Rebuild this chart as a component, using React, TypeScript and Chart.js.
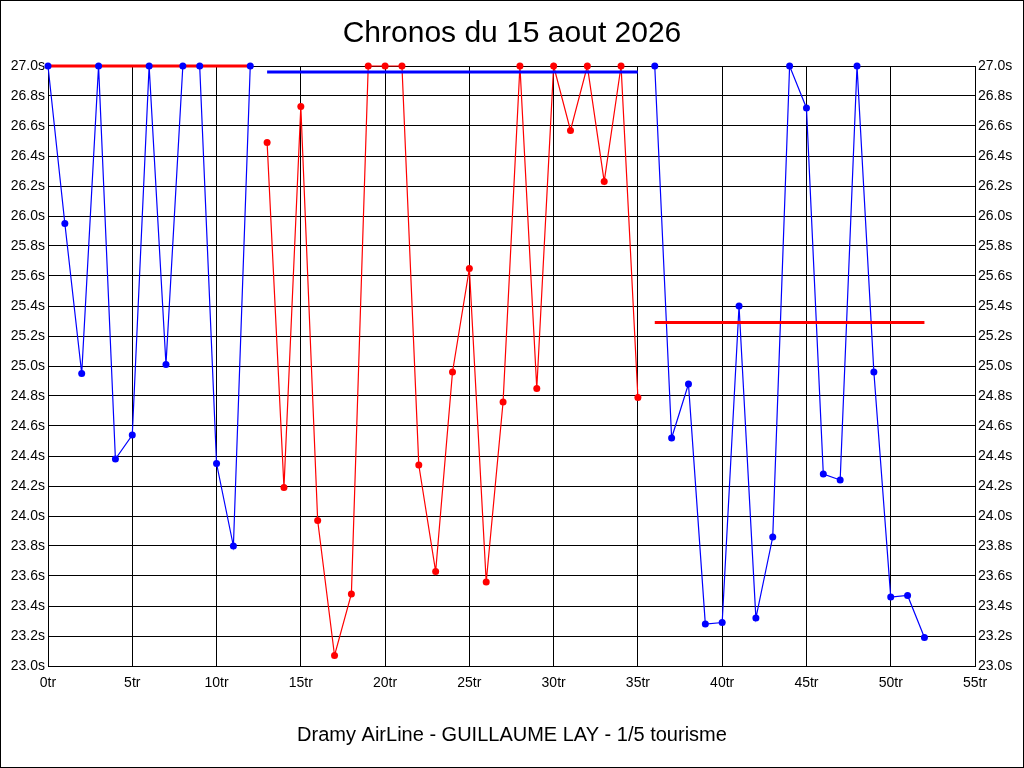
import React, { useEffect, useRef } from 'react';
import { Chart, registerables } from 'chart.js';

Chart.register(...registerables);

const title = 'Chronos du 15 aout 2026';
const footer = 'Dramy AirLine - GUILLAUME LAY - 1/5 tourisme';

// lap times in seconds, split by session
const session1Start = 0;
const session1 = [27.0, 25.95, 24.95, 27.0, 24.38, 24.54, 27.0, 25.01, 27.0, 27.0, 24.35, 23.80, 27.0];
const session2Start = 13;
const session2 = [26.49, 24.19, 26.73, 23.97, 23.07, 23.48, 27.0, 27.0, 27.0, 24.34, 23.63, 24.96, 25.65, 23.56, 24.76, 27.0, 24.85, 27.0, 26.57, 27.0, 26.23, 27.0, 24.79];
const session3Start = 36;
const session3 = [27.0, 24.52, 24.88, 23.28, 23.29, 25.40, 23.32, 23.86, 27.0, 26.72, 24.28, 24.24, 27.0, 24.96, 23.46, 23.47, 23.19];
// reference line per session
const sessionLevels = [27.0, 26.96, 25.29];

const xMin = 0;
const xMax = 55;
const xStep = 5;
const yMin = 23.0;
const yMax = 27.0;
const yStep = 0.2;

const BLUE = '#0000ff';
const RED = '#ff0000';

const toPoints = (start: number, values: number[]) => values.map((y, i) => ({ x: start + i, y }));
const levelLine = (start: number, values: number[], level: number) => [
    { x: start, y: level },
    { x: start + values.length - 1, y: level },
];

const frame = {
    id: 'frame',
    afterDraw(chart: any) {
        const ctx = chart.ctx;
        ctx.save();
        ctx.strokeStyle = '#000';
        ctx.lineWidth = 1;
        ctx.strokeRect(0.5, 0.5, chart.width - 1, chart.height - 1);
        ctx.fillStyle = '#000';
        ctx.textAlign = 'center';
        ctx.textBaseline = 'middle';
        ctx.font = '30px "Liberation Sans", Arial, sans-serif';
        ctx.fillText(title, chart.width / 2, 34);
        ctx.font = '20px "Liberation Sans", Arial, sans-serif';
        ctx.fillText(footer, chart.width / 2, 735);
        ctx.restore();
    },
};

export default function App() {
    const canvas = useRef<HTMLCanvasElement>(null);

    useEffect(() => {
        document.body.style.margin = '0';
        Chart.defaults.font.family = '"Liberation Sans", Arial, sans-serif';
        Chart.defaults.color = '#000';

        const sessions = [
            { start: session1Start, values: session1, color: BLUE, levelColor: RED },
            { start: session2Start, values: session2, color: RED, levelColor: BLUE },
            { start: session3Start, values: session3, color: BLUE, levelColor: RED },
        ];

        const datasets: any[] = [];
        sessions.forEach((s, i) => {
            const pts = toPoints(s.start, s.values);
            datasets.push({
                data: pts,
                borderColor: s.color,
                borderWidth: 1.2,
                pointRadius: 0,
                clip: false,
                order: 3,
            });
            datasets.push({
                data: levelLine(s.start, s.values, sessionLevels[i]),
                borderColor: s.levelColor,
                borderWidth: 3,
                pointRadius: 0,
                clip: false,
                order: 2,
            });
            datasets.push({
                data: pts,
                showLine: false,
                pointRadius: 3.5,
                pointBorderWidth: 0,
                pointBackgroundColor: s.color,
                clip: false,
                order: 1,
            });
        });

        const tickFont = { size: 14 };

        const chart = new Chart(canvas.current!, {
            type: 'line',
            data: { datasets },
            options: {
                animation: false,
                responsive: false,
                devicePixelRatio: 1,
                layout: { padding: { top: 66, left: 0, right: 0, bottom: 0 } },
                plugins: {
                    legend: { display: false },
                    tooltip: { enabled: false },
                },
                scales: {
                    x: {
                        type: 'linear',
                        min: xMin,
                        max: xMax,
                        ticks: { stepSize: xStep, padding: 9, font: tickFont, callback: (v: any) => `${v}tr` },
                        grid: { color: '#000', lineWidth: 1, drawTicks: false },
                        border: { color: '#000' },
                        afterFit: (scale: any) => { scale.height = 102; },
                    },
                    y: {
                        type: 'linear',
                        position: 'left',
                        min: yMin,
                        max: yMax,
                        ticks: { stepSize: yStep, padding: 3, font: tickFont, callback: (v: any) => `${Number(v).toFixed(1)}s` },
                        grid: { color: '#000', lineWidth: 1, drawTicks: false },
                        border: { color: '#000' },
                        afterFit: (scale: any) => { scale.width = 48; },
                    },
                    y2: {
                        type: 'linear',
                        position: 'right',
                        min: yMin,
                        max: yMax,
                        ticks: { stepSize: yStep, padding: 3, font: tickFont, callback: (v: any) => `${Number(v).toFixed(1)}s` },
                        grid: { display: false, drawTicks: false },
                        border: { color: '#000' },
                        afterFit: (scale: any) => { scale.width = 49; },
                    },
                },
            },
            plugins: [frame],
        });
        return () => {
            chart.destroy();
        };
    }, []);

    return <canvas ref={canvas} width={1024} height={768} style={{ display: 'block' }} />;
}
